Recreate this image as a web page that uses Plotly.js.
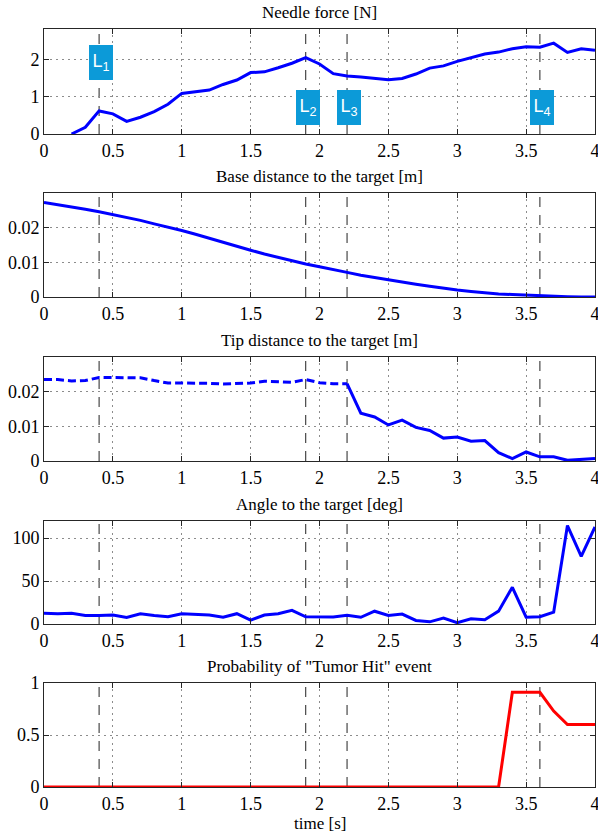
<!DOCTYPE html>
<html>
<head>
<meta charset="utf-8">
<script src="https://cdn.plot.ly/plotly-3.0.1.min.js"></script>
<style>html,body{margin:0;padding:0;background:#fff;}#chart{width:598px;height:836px;}</style>
</head>
<body>
<div id="chart"></div>
<script>
// ---- data ----
var forceTime = [0.2,0.3,0.4,0.5,0.6,0.7,0.8,0.9,1.0,1.1,1.2,1.3,1.4,1.5,1.6,1.7,1.8,1.9,2.0,2.1,2.2,2.3,2.4,2.5,2.6,2.7,2.8,2.9,3.0,3.1,3.2,3.3,3.4,3.5,3.6,3.7,3.8,3.9,4.0];
var needleForce = [0,0.18,0.62,0.54,0.34,0.45,0.6,0.8,1.09,1.14,1.18,1.33,1.45,1.65,1.67,1.78,1.9,2.05,1.88,1.62,1.56,1.53,1.49,1.46,1.49,1.61,1.77,1.83,1.95,2.05,2.15,2.2,2.29,2.34,2.33,2.44,2.19,2.29,2.25];

var time = [0,0.1,0.2,0.3,0.4,0.5,0.6,0.7,0.8,0.9,1.0,1.1,1.2,1.3,1.4,1.5,1.6,1.7,1.8,1.9,2.0,2.1,2.2,2.3,2.4,2.5,2.6,2.7,2.8,2.9,3.0,3.1,3.2,3.3,3.4,3.5,3.6,3.7,3.8,3.9,4.0];
var baseDist = [0.0273,0.0267,0.0260,0.0253,0.0246,0.0238,0.0230,0.0221,0.0211,0.0202,0.0192,0.0181,0.0169,0.0158,0.0146,0.0135,0.0124,0.0114,0.0104,0.0095,0.0087,0.0078,0.0071,0.0063,0.0056,0.0049,0.0043,0.0037,0.0031,0.0025,0.0020,0.0016,0.0012,0.0009,0.0007,0.0005,0.0003,0.0002,0.0001,0.00003,0];
var tipDist = [0.0235,0.0235,0.0231,0.0232,0.0241,0.0241,0.0241,0.0240,0.0232,0.0225,0.0225,0.0225,0.0224,0.0222,0.0224,0.0225,0.0230,0.0229,0.0227,0.0235,0.0226,0.0223,0.0223,0.0138,0.0127,0.0104,0.0118,0.0097,0.0088,0.0066,0.0069,0.0057,0.0059,0.0024,0.0007,0.0026,0.0012,0.0012,0.0002,0.0005,0.0007];
var tipEstimatedUntil = 2.2;
var angle = [12.6,12,12.5,10,10,10.5,7.5,12,10,8.5,12,11,10.5,8,12,4.5,10.5,12,16,8.4,8.2,8.2,10.3,7.8,14.9,10,11.5,4.1,2.5,6.8,1.5,6,5,15,42.8,8,8.5,13.8,114.7,78.7,113];
var tumorHit = [0,0,0,0,0,0,0,0,0,0,0,0,0,0,0,0,0,0,0,0,0,0,0,0,0,0,0,0,0,0,0,0,0,0,0.91,0.91,0.91,0.73,0.6,0.6,0.6];

var eventTimes = [0.4,1.9,2.2,3.6];
var eventLabels = ['L<sub>1</sub>','L<sub>2</sub>','L<sub>3</sub>','L<sub>4</sub>'];
var eventLabelY = [1.91,0.71,0.71,0.71];

var panelTitles = ['Needle force [N]','Base distance to the target [m]','Tip distance to the target [m]','Angle to the target [deg]','Probability of "Tumor Hit" event'];
var xTicks = [0,0.5,1,1.5,2,2.5,3,3.5,4];
var xTickText = ['0','0.5','1','1.5','2','2.5','3','3.5','4'];
var yRanges = [[0,2.82],[0,0.03],[0,0.03],[0,120],[0,1]];
var yTicks = [[0,1,2],[0,0.01,0.02],[0,0.01,0.02],[0,50,100],[0,0.5,1]];
var yTickText = [['0','1','2'],['0','0.01','0.02'],['0','0.01','0.02'],['0','50','100'],['0','0.5','1']];
var xLabel = 'time [s]';

// ---- layout ----
var H = 836, mt = 29, mb = 49;
var plotH = H - mt - mb;
var panelPx = [[29,134],[193,297],[357,461],[521,624],[683,787]];
function dom(p){ var bot = H - mb; return [(bot - p[1]) / plotH, (bot - p[0]) / plotH]; }

var serif = 'Liberation Serif, Times New Roman, serif';
var blue = '#0000ff';
var traces = [];
var estIdx = time.filter(function(t){return t <= tipEstimatedUntil + 1e-9;}).length;

traces.push({x: forceTime, y: needleForce, xaxis:'x', yaxis:'y', mode:'lines', line:{color:blue,width:3}, hoverinfo:'skip'});
traces.push({x: time, y: baseDist, xaxis:'x2', yaxis:'y2', mode:'lines', line:{color:blue,width:3}, hoverinfo:'skip'});
traces.push({x: time.slice(0, estIdx), y: tipDist.slice(0, estIdx), xaxis:'x3', yaxis:'y3', mode:'lines', line:{color:blue,width:3,dash:'8px,4px'}, hoverinfo:'skip'});
traces.push({x: time.slice(estIdx-1), y: tipDist.slice(estIdx-1), xaxis:'x3', yaxis:'y3', mode:'lines', line:{color:blue,width:3}, hoverinfo:'skip'});
traces.push({x: time, y: angle, xaxis:'x4', yaxis:'y4', mode:'lines', line:{color:blue,width:3}, hoverinfo:'skip'});
traces.push({x: time, y: tumorHit, xaxis:'x5', yaxis:'y5', mode:'lines', line:{color:'#ff0000',width:3}, hoverinfo:'skip'});

var layout = {
  width: 598, height: 836,
  margin: {l:44, r:3, t:mt, b:mb, pad:0},
  paper_bgcolor:'#ffffff', plot_bgcolor:'#ffffff',
  showlegend:false,
  font:{family:serif, size:17, color:'#000'},
  shapes:[], annotations:[]
};

for (var i = 0; i < 5; i++) {
  var s = i === 0 ? '' : String(i+1);
  var axCommon = {
    showline:true, mirror:'ticks', linecolor:'#262626', linewidth:1,
    ticks:'inside', ticklen:5, tickcolor:'#262626', tickwidth:1,
    showgrid:true, gridcolor:'#8c8c8c', gridwidth:1, griddash:'2px,4px',
    zeroline:false, ticklabeloverflow:'allow',
    tickfont:{family:serif, size:18, color:'#000'}
  };
  layout['xaxis'+s] = Object.assign({}, axCommon, {
    domain:[0,1], range:[0,4], tickmode:'array', tickvals:xTicks, ticktext:xTickText,
    anchor:'y'+s
  });
  layout['yaxis'+s] = Object.assign({}, axCommon, {
    domain: dom(panelPx[i]), range: yRanges[i], tickmode:'array', tickvals:yTicks[i], ticktext:yTickText[i],
    anchor:'x'+s
  });
  eventTimes.forEach(function(t){
    layout.shapes.push({type:'line', xref:'x'+s, yref:'y'+s+' domain', x0:t, x1:t, y0:0, y1:1,
      line:{color:'#222222', width:1, dash:'10px,8px'}, layer:'below'});
  });
  layout.annotations.push({xref:'paper', yref:'paper', x:0.5, y:dom(panelPx[i])[1],
    xanchor:'center', yanchor:'middle', yshift:17, showarrow:false,
    text: panelTitles[i], font:{family:serif, size:17, color:'#000'}});
}

eventTimes.forEach(function(t, k){
  layout.annotations.push({xref:'x', yref:'y', x:t, y:eventLabelY[k], xshift:2,
    showarrow:false, text:eventLabels[k], bgcolor:'#0c9ad8', borderpad:0, borderwidth:0,
    width:24, height:35, align:'center', valign:'middle',
    font:{family:'Liberation Sans, Arial, sans-serif', size:18, color:'#ffffff'}});
});

layout.annotations.push({xref:'paper', yref:'paper', x:0.5, y:0, xanchor:'center', yanchor:'middle',
  yshift:-36, showarrow:false, text:xLabel, font:{family:serif, size:17, color:'#000'}});

Plotly.newPlot('chart', traces, layout, {staticPlot:true, displayModeBar:false});
</script>
</body>
</html>
